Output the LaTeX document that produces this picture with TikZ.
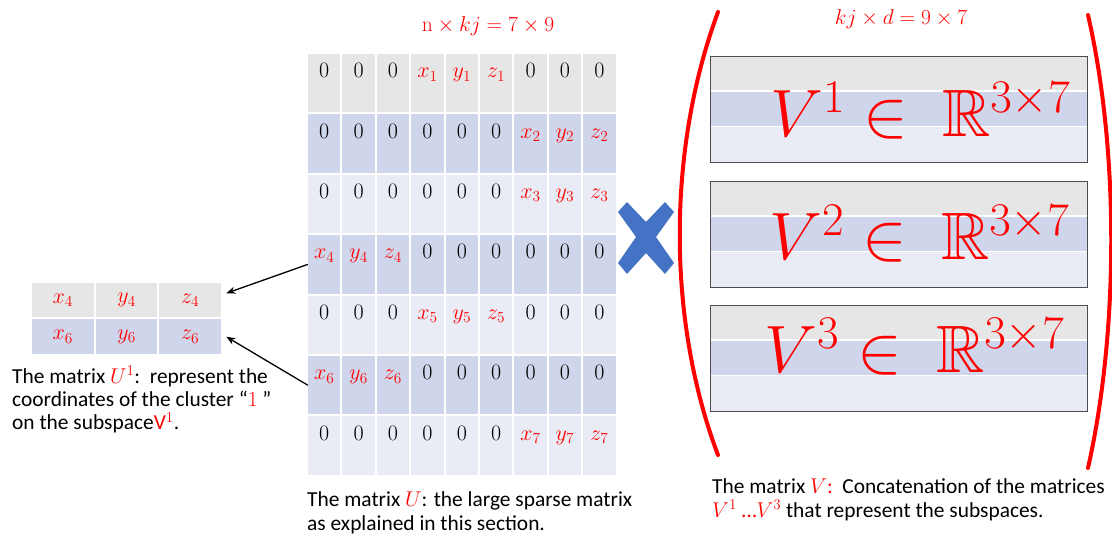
\RequirePackage{fix-cm}
\documentclass[tikz,border=0pt]{standalone}
\usepackage{amssymb}
\usepackage[no-math]{fontspec}
\setmainfont{Carlito}
\usetikzlibrary{arrows.meta,positioning,calc}

\definecolor{rowgray}{HTML}{E6E6E6}
\definecolor{rowblue}{HTML}{CFD5EA}
\definecolor{rowlight}{HTML}{E9EBF5}
\definecolor{crossblue}{HTML}{4472C4}
\definecolor{mred}{HTML}{FF0000}

\begin{document}
\begin{tikzpicture}[
            x=1pt, y=-1pt,
            font=\fontsize{21.4}{23.5}\selectfont,
            cell/.style={minimum width=32.4pt, minimum height=58.4pt, inner sep=0pt},
            scell/.style={minimum width=61.7pt, minimum height=34.5pt, inner sep=0pt,
            text=mred, font=\fontsize{22}{22}\selectfont},
            entry/.style={inner sep=0pt, anchor=base, font=\fontsize{22}{22}\selectfont},
            vbox/.style={minimum width=376pt, minimum height=105pt, inner sep=0pt},
            vtext/.style={inner sep=0pt, anchor=base west, text=mred,
            font=\fontsize{67}{67}\selectfont},
            dims/.style={inner sep=0pt, anchor=base, text=mred,
            font=\fontsize{21.5}{21.5}\selectfont},
            caption/.style={inner sep=0pt, anchor=base west, align=left},
            paren/.style={mred, line width=4pt, line cap=round},
            ar/.style={-{Stealth[length=9pt,width=7pt]}, line width=1.3pt}
        ]
\useasboundingbox (0,0) rectangle (1112,537);

% Sparse matrix U (7 x 9)
\foreach \r/\g/\f in {1/2/rowgray, 2/3/rowblue, 3/3/rowlight, 4/1/rowblue,
                      5/2/rowlight, 6/1/rowblue, 7/3/rowlight}{
  \foreach \c/\b/\v in {1/1/x, 2/1/y, 3/1/z, 4/2/x, 5/2/y, 6/2/z, 7/3/x, 8/3/y, 9/3/z}{
    \node[cell, fill=\f] (u-\r-\c) at ({307+34.4*(\c-0.5)}, {53+60.4*(\r-0.5)}) {};
    \ifnum\b=\g
      \node[entry, text=mred] at ([yshift=-24pt]u-\r-\c.north) {$\v_{\r}$};
    \else
      \node[entry] at ([yshift=-24pt]u-\r-\c.north) {$0$};
    \fi
  }
}
\node[dims] (udims) at (488,32) {$\mathrm{n}\times kj = 7\times 9$};

% Cluster matrix U^1
\foreach \r/\k/\f in {1/4/rowgray, 2/6/rowblue}{
  \foreach \c/\v in {1/x, 2/y, 3/z}{
    \node[scell, fill=\f] (s-\r-\c) at ({31+63.7*(\c-0.5)}, {282+36.5*(\r-0.5)}) {$\v_{\k}$};
  }
}
\draw[ar] (u-4-1.west) -- ([xshift=5pt,yshift=7pt]s-1-3.east);
\draw[ar] (u-6-1.west) -- ([xshift=5pt]s-2-3.east);

% multiplication sign
\fill[crossblue] (627,202) -- (646,222) -- (665,202) -- (674,212) -- (656,237)
  -- (674,263) -- (665,274) -- (646,253) -- (627,274) -- (618,263) -- (636,237)
  -- (618,212) -- cycle;

% Subspace blocks V^1 ... V^3
\foreach \i/\t/\bl/\xs in {1/57/80/770, 2/182/78/769, 3/306/67/764}{
  \node[vbox] (v\i) at (899,\t+52.5) {};
  \fill[rowgray] (v\i.north west) rectangle ([yshift=-33pt]v\i.north east);
  \fill[rowblue] ([yshift=-35pt]v\i.north west) rectangle ([yshift=-69pt]v\i.north east);
  \fill[rowlight] ([yshift=-70pt]v\i.north west) rectangle (v\i.south east);
  \draw[black!70, line width=0.8pt] (v\i.north west) rectangle (v\i.south east);
  \node[vtext] (vt\i) at (\xs,\t+\bl) {$V^{\i}\in\ \mathbb{R}^{3\times 7}$};
}
\node[dims] (vdims) at (901,25) {$kj\times d = 9\times 7$};

% big parentheses
\draw[paren] (718,12) .. controls (667,150) and (667,320) .. (718,455);
\draw[paren] (1088,15) .. controls (1119,150) and (1119,330) .. (1088,468);

% captions (base = last line)
\node[caption] (ucap) at (12,430) {The matrix \textcolor{mred}{$U^1$}:\ \ represent the\\
  coordinates of the cluster ``\textcolor{mred}{$1$} ''\\
  on the subspace\textcolor{mred}{V$^1$}.};
\node[caption] (bigcap) at (307,530) {The matrix \textcolor{mred}{$U$}: the large sparse matrix\\
  as explained in this section.};
\node[caption] (vcap) at (712,517) {The matrix \textcolor{mred}{$V$:}\ \ Concatenation of the matrices\\
  \textcolor{mred}{$V^1$ \dots$V^3$} that represent the subspaces.};
\end{tikzpicture}
\end{document}
